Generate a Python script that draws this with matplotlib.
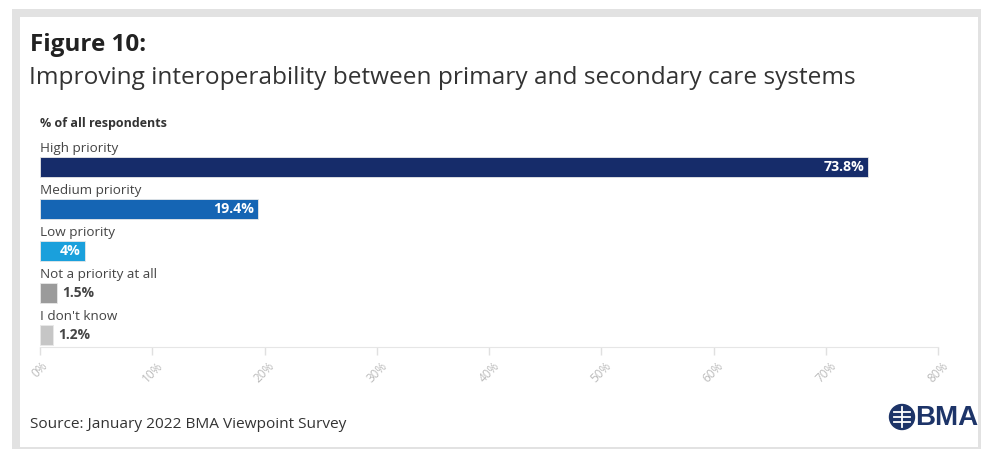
import matplotlib
matplotlib.use("Agg")
import matplotlib.pyplot as plt
from matplotlib.patches import Rectangle, Circle

# data
categories = ["High priority", "Medium priority", "Low priority",
              "Not a priority at all", "I don't know"]
values = [73.8, 19.4, 4.0, 1.5, 1.2]
value_labels = ["73.8%", "19.4%", "4%", "1.5%", "1.2%"]
colors = ["#162c6a", "#1565b4", "#1aa0dc", "#9b9b9b", "#c6c6c6"]
tick_values = [0, 10, 20, 30, 40, 50, 60, 70, 80]
tick_labels = [f"{t}%" for t in tick_values]

W, H = 981, 450
fig = plt.figure(figsize=(W / 100, H / 100), dpi=100)
fig.patch.set_facecolor("white")


def px(x, y):
    # pixel coords (top-left origin) -> figure fraction
    return x / W, 1 - y / H


def add_rect(x0, y0, x1, y1, color):
    fx, fy = px(x0, y1)
    fig.add_artist(Rectangle((fx, fy), (x1 - x0) / W, (y1 - y0) / H,
                             transform=fig.transFigure, color=color, lw=0, zorder=0))


# grey frame around the panel
frame = "#e2e2e2"
add_rect(12, 9, 981, 17, frame)
add_rect(12, 9, 20, 449, frame)
add_rect(978, 9, 981, 449, frame)
add_rect(12, 447, 981, 449, frame)

# titles
title_font = "Open Sans"
fig.text(*px(30, 45), "Figure 10:", fontsize=17.5, fontweight="bold",
         family=title_font, color="#222222", va="center")
fig.text(*px(29, 78), "Improving interoperability between primary and secondary care systems",
         fontsize=17.6, family=title_font, color="#333333", va="center")
fig.text(*px(40, 123), "% of all respondents", fontsize=9, fontweight="bold",
         family="Open Sans", color="#333333", va="center")
fig.text(*px(30, 425), "Source: January 2022 BMA Viewpoint Survey", fontsize=11.1,
         family=title_font, color="#333333", va="center")

# logo
logo_ax = fig.add_axes([0, 0, 1, 1], facecolor="none")
logo_ax.set_xlim(0, W)
logo_ax.set_ylim(H, 0)
logo_ax.axis("off")
logo_ax.add_patch(Circle((902, 417), 12.5, color="#1d3468"))
for dy in (-5, 0, 5):
    logo_ax.plot([894, 910], [417 + dy, 417 + dy], color="white", lw=1.3)
logo_ax.plot([902, 902], [407, 427], color="white", lw=1.3)
fig.text(*px(915, 418), "BMA", fontsize=20, fontweight="bold",
         family="Liberation Sans", color="#1d3468", va="center")

# bar chart area: x 0..80 maps to pixels 40..938
bar_h = 20 / 42
ax_top, ax_bot = 140, 347
ax = fig.add_axes([40 / W, 1 - ax_bot / H, (938 - 40) / W, (ax_bot - ax_top) / H])
ax.set_xlim(0, 80)
ax.set_ylim(4 + 12 / 42, -27 / 42)
ypos = list(range(len(categories)))
ax.barh(ypos, values, height=bar_h, color=colors, edgecolor="#e8e8e8", linewidth=0.6)

for y, cat, v, lab in zip(ypos, categories, values, value_labels):
    ax.text(0, y - 0.43, cat, fontsize=9.7, family="Open Sans", color="#444444",
            va="center", ha="left")
    if v > 3:
        ax.annotate(lab, (v, y), xytext=(-4, 0), textcoords="offset pixels",
                    ha="right", va="center", color="white", fontsize=10.2,
                    fontweight="bold", family="Open Sans")
    else:
        ax.annotate(lab, (v, y), xytext=(5, 0), textcoords="offset pixels",
                    ha="left", va="center", color="#444444", fontsize=10,
                    fontweight="bold", family="Open Sans")

ax.set_yticks([])
ax.set_xticks(tick_values)
ax.set_xticklabels(tick_labels, rotation=45, ha="center", va="top",
                   fontsize=8.5, color="#bbbbbb", family="Open Sans")
ax.tick_params(axis="x", length=6, color="#e0e0e0", width=1, pad=3)
for side in ("top", "right", "left"):
    ax.spines[side].set_visible(False)
ax.spines["bottom"].set_color("#e6e6e6")
ax.set_facecolor("none")

fig.savefig("out.png", dpi=100)
